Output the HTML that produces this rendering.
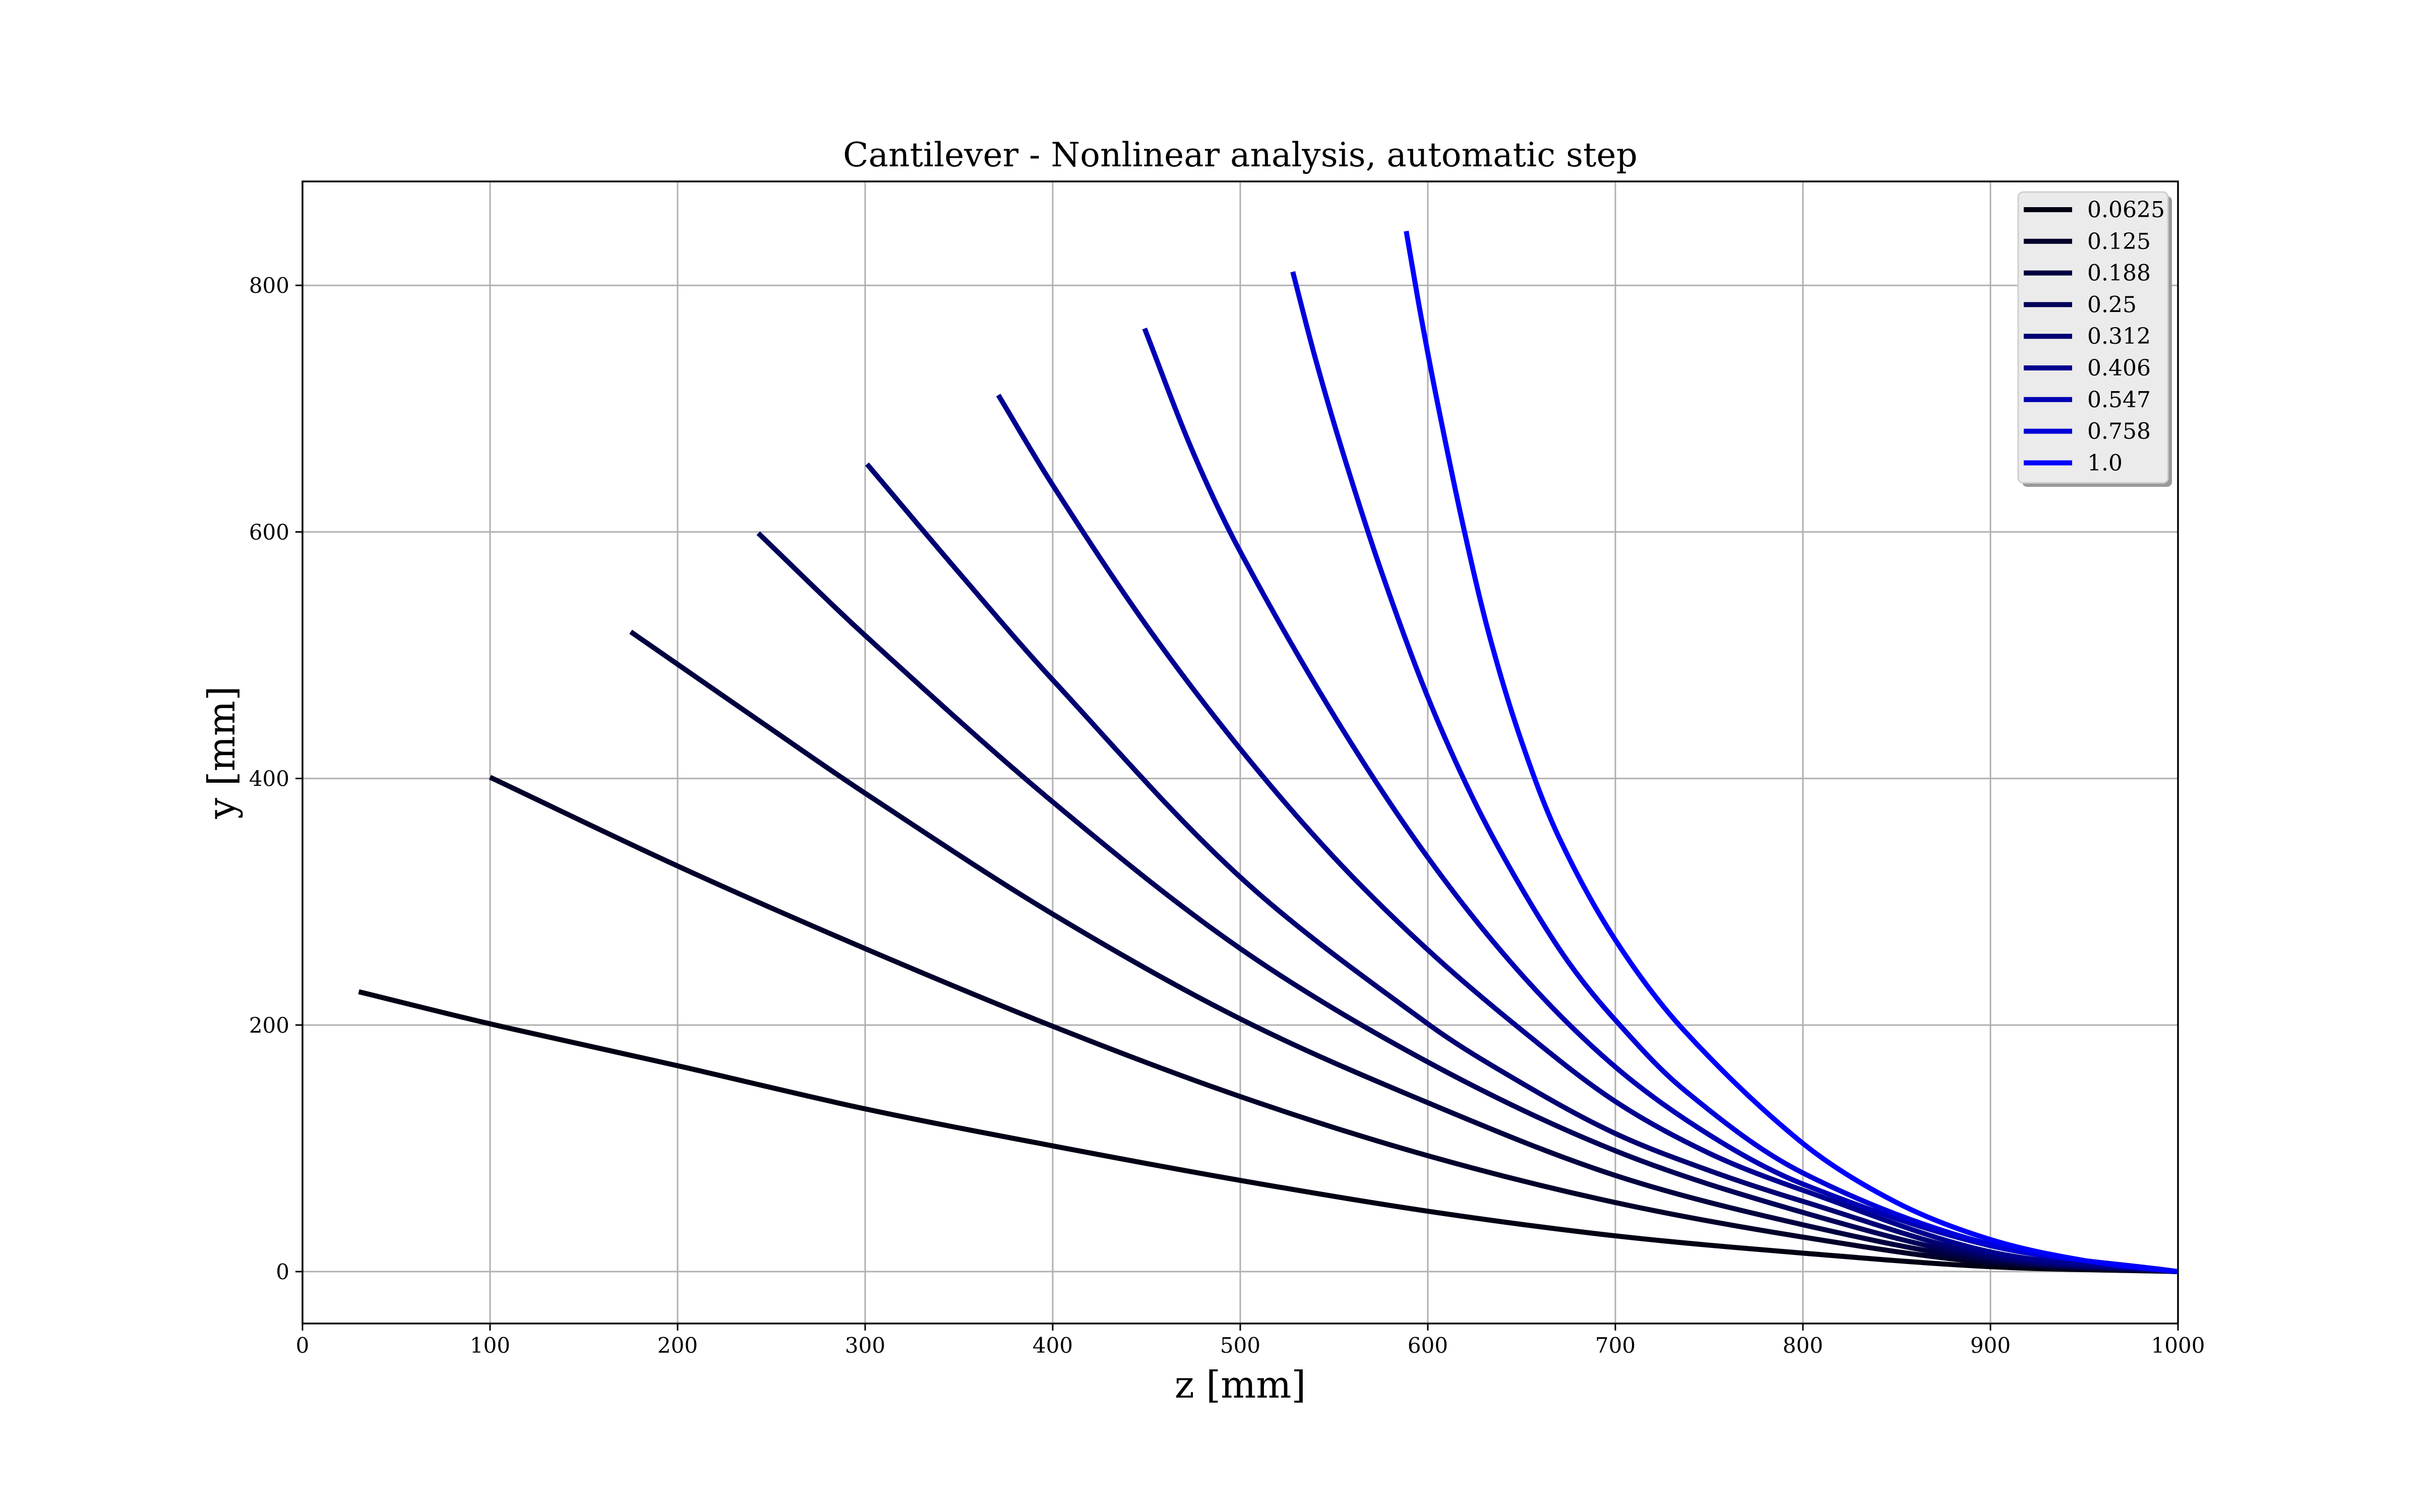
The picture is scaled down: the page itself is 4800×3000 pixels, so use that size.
<!DOCTYPE html>
<html><head><meta charset="utf-8"><style>
html,body{margin:0;padding:0;background:#fff;}
svg{display:block;font-family:"DejaVu Serif","Liberation Serif",serif;}
</style></head><body>
<svg id="chart" width="4800" height="3000" viewBox="0 0 4800 3000" xmlns="http://www.w3.org/2000/svg">
<rect width="4800" height="3000" fill="#fff"/>
<g id="grid"></g>
<g id="series"></g>
<g id="axes"></g>
<text x="2460" y="330" font-size="66" text-anchor="middle">Cantilever - Nonlinear analysis, automatic step</text>
<text x="2460" y="2773" font-size="74" text-anchor="middle">z [mm]</text>
<text transform="translate(465,1493) rotate(-90)" font-size="74" text-anchor="middle">y [mm]</text>
<g id="legend"></g>
</svg>
<script>
const labels = ["0.0625","0.125","0.188","0.25","0.312","0.406","0.547","0.758","1.0"];
const colors = ["#000014","#00002a","#00003f","#000058","#000072","#00008f","#0000b3","#0000d9","#0000ff"];
const xTicks = [0,100,200,300,400,500,600,700,800,900,1000];
const yTicks = [0,200,400,600,800];
const s1 = [[30,227],[100,201],[200,167],[300,132],[400,102],[500,74],[600,49],[700,29],[800,15],[900,4],[1000,0]];
const s2 = [[100,401],[200,329],[300,262],[400,199],[500,142],[600,94],[700,56],[800,28],[900,7],[1000,0]];
const s3 = [[175,519],[250,440],[300,388],[400,290],[500,205],[600,137],[700,78],[800,38],[900,9],[1000,0]];
const s4 = [[243,599],[300,516],[400,381],[500,262],[600,170],[700,98],[800,48],[900,11],[1000,0]];
const s5 = [[301,655],[350,567],[400,480],[500,320],[600,201],[650,153],[700,112],[750,82],[800,57],[900,13],[1000,0]];
const s6 = [[371,711],[400,638],[450,524],[500,424],[550,336],[600,261],[650,196],[700,138],[750,96],[800,66],[900,16],[1000,0]];
const s7 = [[449,765],[475,664],[500,584],[550,451],[600,336],[650,241],[700,166],[750,111],[800,71],[900,21],[1000,0]];
const s8 = [[528,811],[540,741],[555,663],[575,569],[600,466],[625,381],[650,311],[675,251],[700,204],[737,147],[800,80],[900,22],[1000,0]];
const s9 = [[588.5,844],[596,778],[605,706],[619,604],[633,515],[650,430],[670,352],[700,269],[737,195],[800,104],[850,56],[900,26],[950,9],[1000,0]];
const seriesData = [s1,s2,s3,s4,s5,s6,s7,s8,s9];

const X0=600, X1=4320, Y0=360, Y1=2626, xmin=0, xmax=1000, ymin=-42.1, ymax=884.3;
const sx = v => X0 + (v - xmin) / (xmax - xmin) * (X1 - X0);
const sy = v => Y1 - (v - ymin) / (ymax - ymin) * (Y1 - Y0);
const NS = "http://www.w3.org/2000/svg";
function mk(tag, attrs, parent){const e=document.createElementNS(NS,tag);for(const k in attrs)e.setAttribute(k,attrs[k]);parent.appendChild(e);return e;}
const grid=document.getElementById('grid'), axes=document.getElementById('axes'), ser=document.getElementById('series'), leg=document.getElementById('legend');

xTicks.forEach(t=>{
  const g=mk('line',{x1:sx(t),x2:sx(t),y1:Y0,y2:Y1,stroke:'#b0b0b0','stroke-width':3},grid);
  
  
  const tk=mk('line',{x1:sx(t),x2:sx(t),y1:Y1,y2:Y1+14,stroke:'#000','stroke-width':3},axes);
  
  
  const tx=mk('text',{x:sx(t),y:Y1+58,'font-size':42,'text-anchor':'middle'},axes);
  tx.textContent=t;
  
  
});
yTicks.forEach(t=>{
  const g=mk('line',{x1:X0,x2:X1,y1:sy(t),y2:sy(t),stroke:'#b0b0b0','stroke-width':3},grid);
  
  
  const tk=mk('line',{x1:X0-14,x2:X0,y1:sy(t),y2:sy(t),stroke:'#000','stroke-width':3},axes);
  
  
  const tx=mk('text',{x:X0-26,y:sy(t)+15,'font-size':42,'text-anchor':'end'},axes);
  tx.textContent=t;
  
  
});
const frame=mk('rect',{x:X0,y:Y0,width:X1-X0,height:Y1-Y0,fill:'none',stroke:'#000','stroke-width':3.5},axes);



function smoothPath(pts){
  const p=pts.map(d=>[sx(d[0]),sy(d[1])]);
  const n=p.length;
  const tan=p.map((b,i)=>{
    const a=p[Math.max(0,i-1)], c=p[Math.min(n-1,i+1)];
    const dx=c[0]-a[0], dy=c[1]-a[1], L=Math.hypot(dx,dy)||1;
    return [dx/L,dy/L];
  });
  let d='M'+p[0][0]+','+p[0][1];
  for(let i=0;i<n-1;i++){
    const b=p[i], c=p[i+1];
    const len=Math.hypot(c[0]-b[0],c[1]-b[1])/3;
    const c1=[b[0]+tan[i][0]*len, b[1]+tan[i][1]*len];
    const c2=[c[0]-tan[i+1][0]*len, c[1]-tan[i+1][1]*len];
    d+=' C'+c1[0]+','+c1[1]+' '+c2[0]+','+c2[1]+' '+c[0]+','+c[1];
  }
  return d;
}
seriesData.forEach((pts,i)=>{
  const path=mk('path',{d:smoothPath(pts),fill:'none',stroke:colors[i],'stroke-width':10,'stroke-linejoin':'round'},ser);
  
  
});

const sh=mk('rect',{x:4011,y:389,width:297,height:577,rx:10,fill:'#999'},leg);


const box=mk('rect',{x:4003,y:381,width:297,height:577,rx:10,fill:'#ebebeb',stroke:'#cfcfcf','stroke-width':3},leg);


labels.forEach((l,i)=>{
  const y=416+i*62.8;
  const ln=mk('line',{x1:4014,x2:4110,y1:y,y2:y,stroke:colors[i],'stroke-width':10},leg);
  
  
  const t=mk('text',{x:4140,y:y+15,'font-size':44},leg);
  t.textContent=l;
  
  
});
</script>
</body></html>
